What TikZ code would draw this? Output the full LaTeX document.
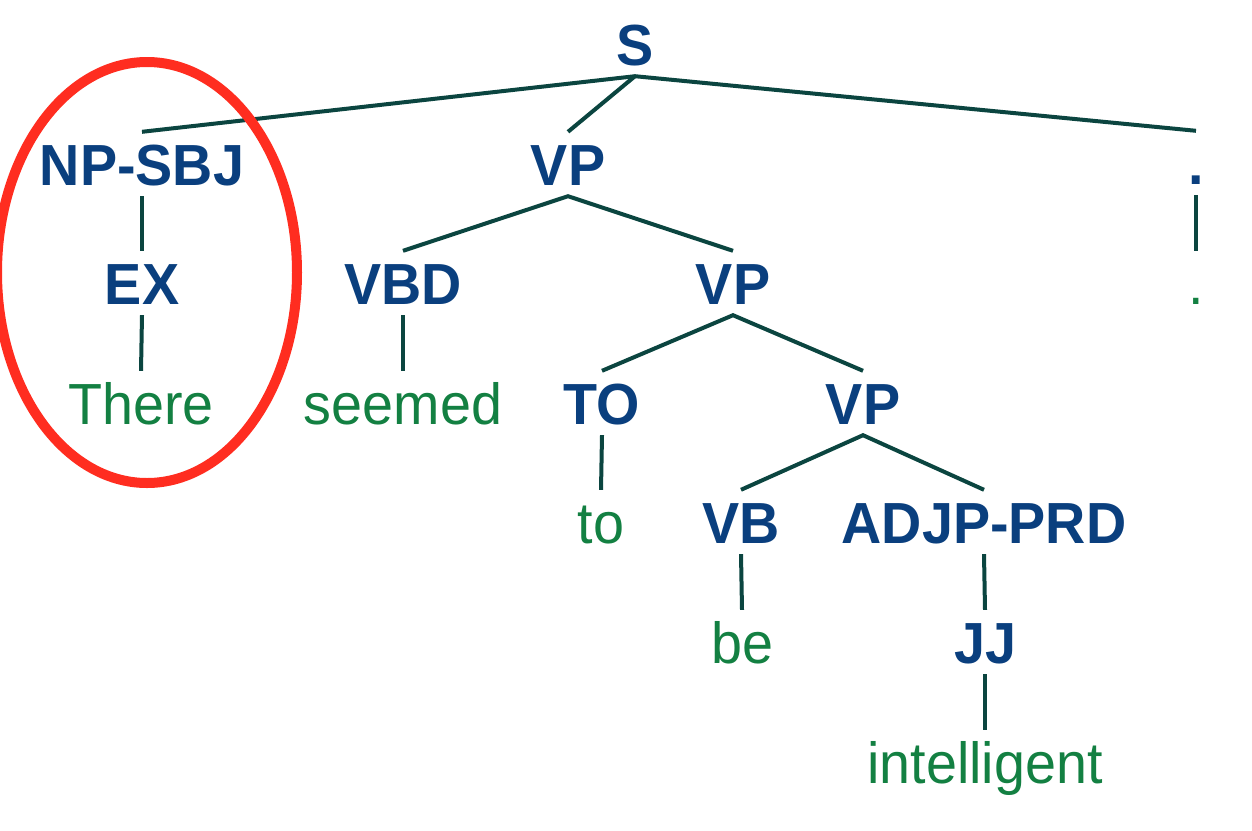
\documentclass[tikz,border=0pt]{standalone}
\usepackage{fontspec}
\setmainfont[FakeStretch=0.96]{Liberation Sans}
\usetikzlibrary{shapes.geometric}
\definecolor{tagblue}{HTML}{0A3F7E}
\definecolor{wordgreen}{HTML}{138042}
\definecolor{edgecol}{HTML}{0B4540}
\definecolor{ringred}{HTML}{FF2D20}
\begin{document}
\begin{tikzpicture}[x=1pt,y=-1pt,
  tag/.style={anchor=base, text=tagblue, font=\fontsize{58}{60}\selectfont\bfseries,
    text height=42pt, text depth=0pt, inner xsep=0pt, inner ysep=11pt},
  word/.style={anchor=base, text=wordgreen, font=\fontsize{58}{60}\selectfont,
    text height=42pt, text depth=0pt, inner xsep=0pt, inner ysep=11pt},
  edge/.style={draw=edgecol, line width=4pt}]
\useasboundingbox (0,0) rectangle (1252,830);
% nodes
\node[tag] (S) at (635,65) {S};
\node[tag] (np) at (142,185) {NP-SBJ};
\node[tag] (vp1) at (568,185) {VP};
\node[tag] (dot1) at (1196,184) {.};
\node[tag] (ex) at (142,304) {EX};
\node[tag] (vbd) at (403,304) {VBD};
\node[tag] (vp2) at (733,304) {VP};
\node[word] (dot2) at (1196,304) {.};
\node[word] (there) at (141,424) {There};
\node[word] (seemed) at (403,424) {seemed};
\node[tag] (to) at (602,424) {TO};
\node[tag] (vp3) at (863,424) {VP};
\node[word] (toW) at (601,543) {to};
\node[tag] (vb) at (741,543) {VB};
\node[tag] (adjp) at (984,543) {ADJP-PRD};
\node[word] (be) at (742,663) {be};
\node[tag] (jj) at (985,663) {JJ};
\node[word] (intel) at (985,783) {intelligent};
% edges
\draw[edge] (np.north) -- (S.south) -- (dot1.north);
\draw[edge] (S.south) -- (vp1.north);
\draw[edge] (np.south) -- (ex.north);
\draw[edge] (ex.south) -- (there.north);
\draw[edge] (vbd.north) -- (vp1.south) -- (vp2.north);
\draw[edge] (vbd.south) -- (seemed.north);
\draw[edge] (dot1.south) -- (dot2.north);
\draw[edge] (to.north) -- (vp2.south) -- (vp3.north);
\draw[edge] (to.south) -- (toW.north);
\draw[edge] (vb.north) -- (vp3.south) -- (adjp.north);
\draw[edge] (vb.south) -- (be.north);
\draw[edge] (adjp.south) -- (jj.north);
\draw[edge] (jj.south) -- (intel.north);
% red ring
\node[draw=ringred, line width=10pt, ellipse, minimum width=300pt, minimum height=421pt,
  inner sep=0pt, outer sep=0pt] (ring) at (147,272.5) {};
\end{tikzpicture}
\end{document}
